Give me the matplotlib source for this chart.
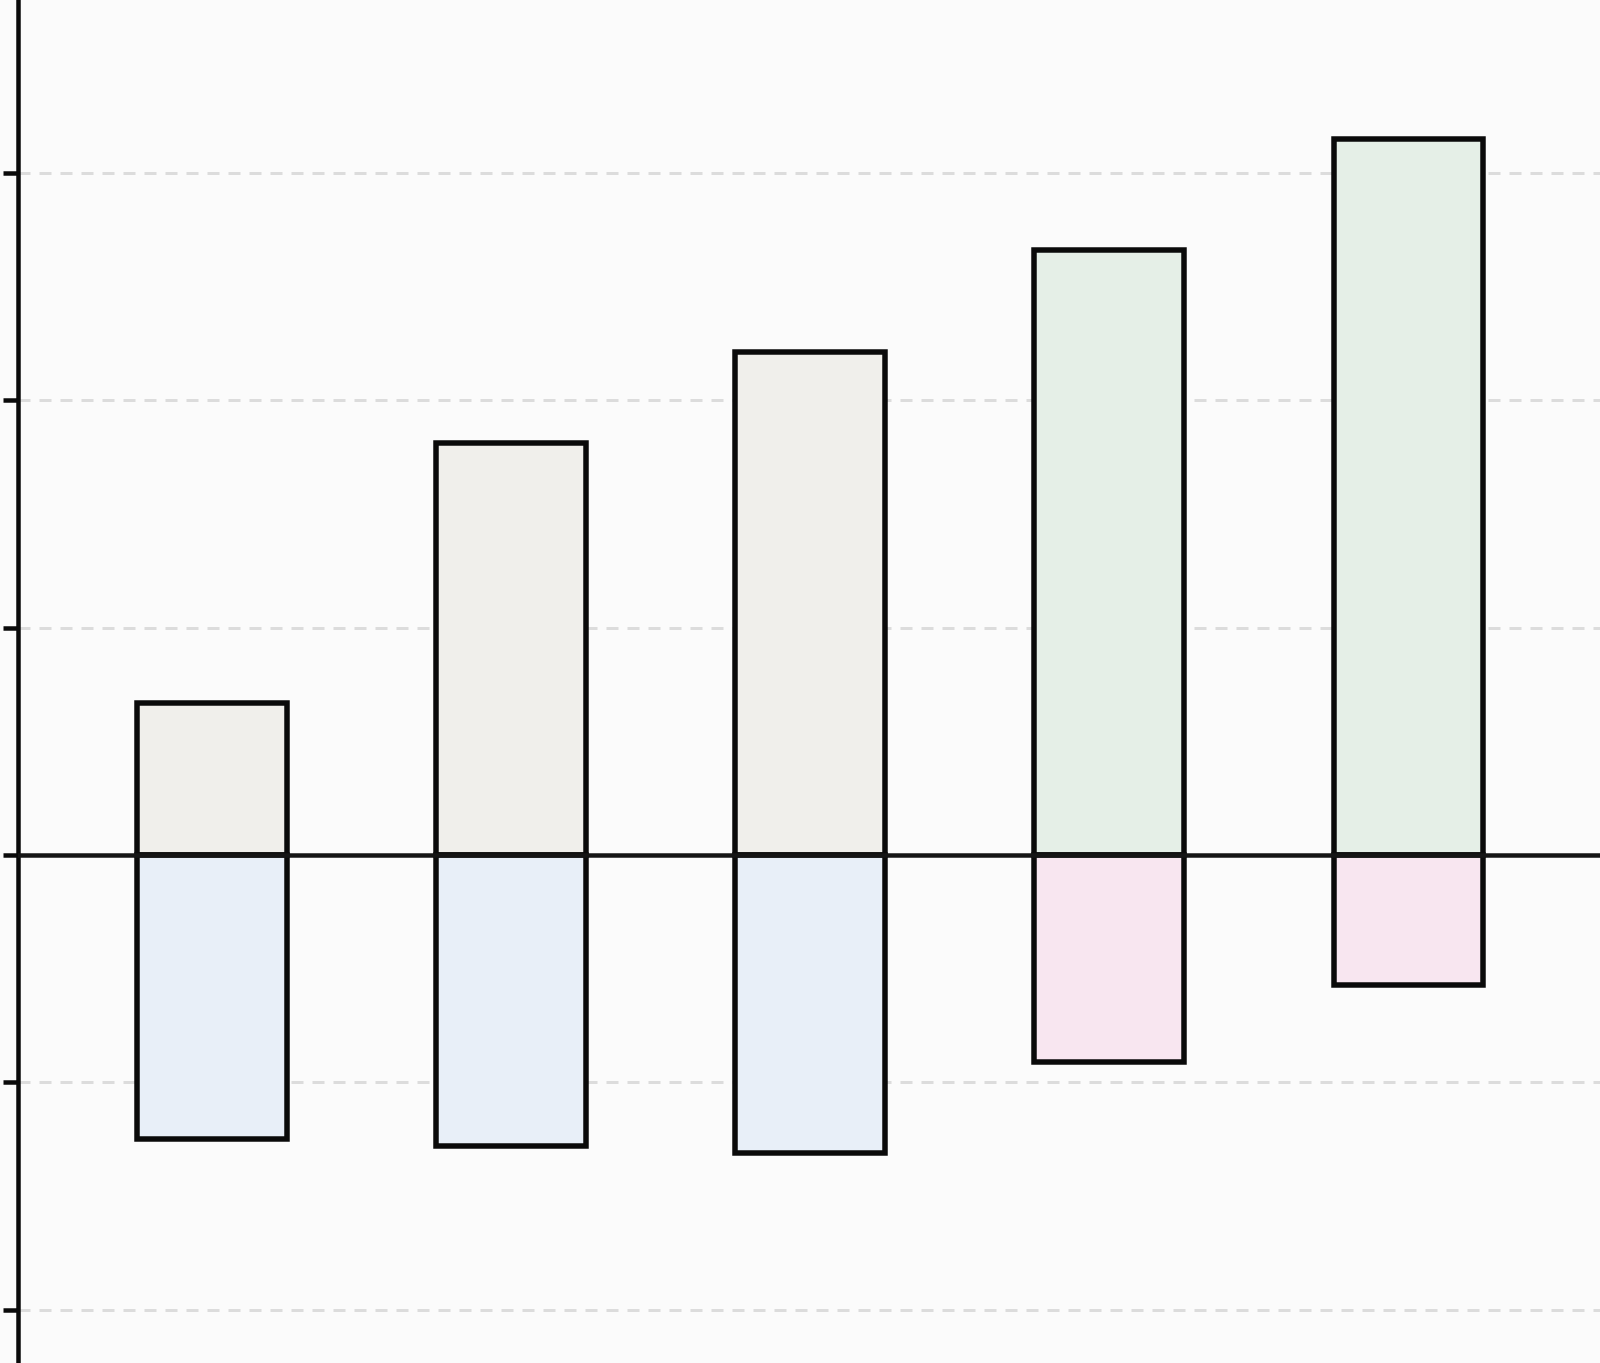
import matplotlib
matplotlib.use("Agg")
import matplotlib.pyplot as plt
import numpy as np

categories = ["A", "B", "C", "D", "E"]
positive = [6.7, 18.1, 22.1, 26.6, 31.5]
negative = [-12.5, -12.8, -13.1, -9.1, -5.7]
pos_colors = ["#f0efeb", "#f0efeb", "#f0efeb", "#e5efe7", "#e5efe7"]
neg_colors = ["#e8eff8", "#e8eff8", "#e8eff8", "#f8e6f0", "#f8e6f0"]
yticks = [-20, -10, 0, 10, 20, 30]

px = 72 / 100
fig = plt.figure(figsize=(16, 13.63), dpi=100, facecolor="#fbfbfb")
ax = fig.add_axes([18 / 1600, 0, 1 - 18 / 1600, 1])
ax.set_facecolor("#fbfbfb")

x = np.arange(len(categories))
ax.bar(x, positive, width=0.5, color=pos_colors, edgecolor="#0a0a0a", linewidth=5.5 * px, zorder=3)
ax.bar(x, negative, width=0.5, color=neg_colors, edgecolor="#0a0a0a", linewidth=5.5 * px, zorder=3)
ax.axhline(0, color="#151515", linewidth=4.5 * px, zorder=4)

ax.set_xlim(-0.649, 4.641)
ax.set_ylim(-22.34, 37.6)
ax.set_yticks(yticks)
ax.set_yticklabels([])
ax.set_xticks([])
for y in yticks:
    if y != 0:
        ax.axhline(y, color="#dcdcdc", linestyle=(0, (4, 3)), linewidth=3 * px, zorder=1)

for s in ["top", "right", "bottom"]:
    ax.spines[s].set_visible(False)
ax.spines["left"].set_linewidth(4.5 * px)
ax.spines["left"].set_color("#0a0a0a")
ax.tick_params(axis="y", length=15 * px, width=4.5 * px, color="#0a0a0a")

fig.savefig("out.png", dpi=100, facecolor=fig.get_facecolor())
